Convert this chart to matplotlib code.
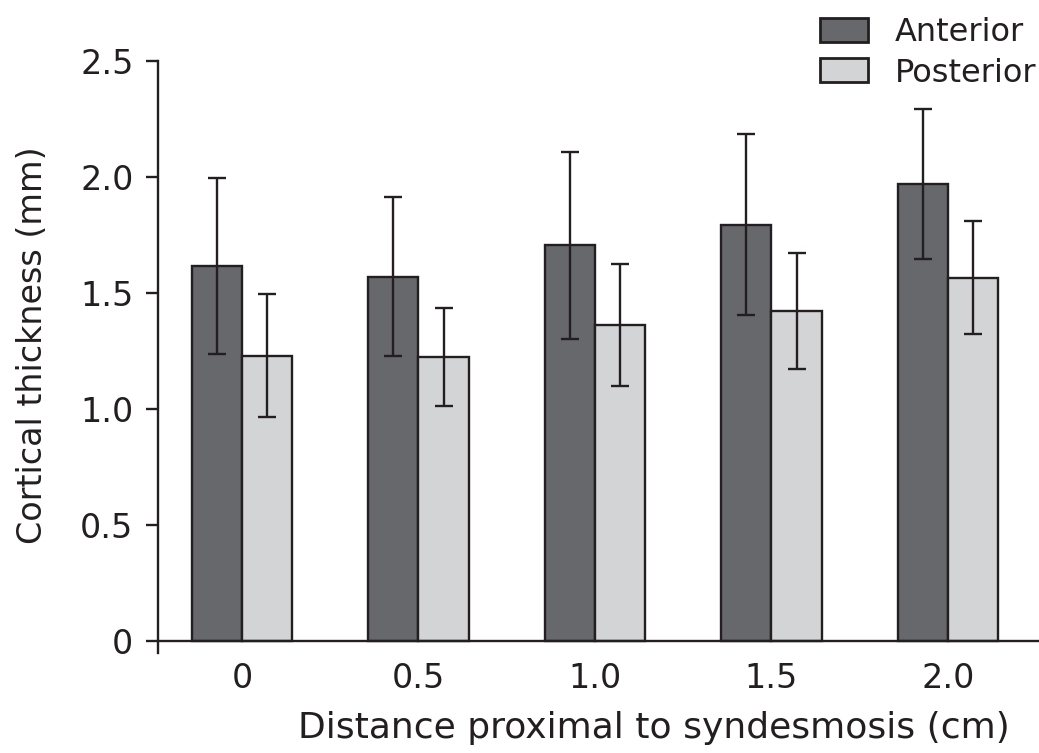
import numpy as np
import matplotlib.pyplot as plt

plt.rcParams['font.family'] = ['DejaVu Sans']

# Data
distances = ['0', '0.5', '1.0', '1.5', '2.0']
anterior = [1.615, 1.57, 1.705, 1.795, 1.97]
anterior_err = [0.38, 0.342, 0.403, 0.39, 0.323]
posterior = [1.23, 1.224, 1.362, 1.422, 1.565]
posterior_err = [0.265, 0.212, 0.265, 0.25, 0.244]

ant_color = '#67686c'
post_color = '#d3d4d6'
edge = '#231f20'

fig = plt.figure(figsize=(10.39, 7.53), dpi=100)
ax = fig.add_axes([0.152, 0.1328, 0.848, 0.7862])

x = np.arange(len(distances))
w = 0.285
err_kw = dict(ecolor=edge, elinewidth=1.7, capsize=6.8, capthick=1.7)
ax.bar(x - w / 2, anterior, w, yerr=anterior_err, color=ant_color,
       edgecolor=edge, linewidth=1.7, label='Anterior', error_kw=err_kw)
ax.bar(x + w / 2, posterior, w, yerr=posterior_err, color=post_color,
       edgecolor=edge, linewidth=1.7, label='Posterior', error_kw=err_kw)

ax.set_xlim(-0.4765, 4.516)
ax.set_ylim(-0.052, 2.5)
ax.set_yticks([0, 0.5, 1.0, 1.5, 2.0, 2.5])
ax.set_yticklabels(['0', '0.5', '1.0', '1.5', '2.0', '2.5'])
ax.set_xticks(x)
ax.set_xticklabels(distances)

for s in ['top', 'right']:
    ax.spines[s].set_visible(False)
ax.spines['bottom'].set_position(('data', 0))
ax.spines['left'].set_linewidth(1.7)
ax.spines['bottom'].set_linewidth(1.7)
ax.spines['left'].set_color(edge)
ax.spines['bottom'].set_color(edge)

ax.tick_params(axis='y', length=8.6, width=1.7, color=edge, pad=9,
               labelsize=24, labelcolor='#231f20')
ax.tick_params(axis='x', length=0, pad=15, labelsize=24, labelcolor='#231f20')

ax.set_ylabel('Cortical thickness (mm)', fontsize=24, color='#231f20')
ax.set_xlabel('Distance proximal to syndesmosis (cm)', fontsize=26,
              color='#231f20')
ax.yaxis.set_label_coords(-0.124, 0.52)
ax.xaxis.set_label_coords(0.563, -0.098)

leg = fig.legend(loc='upper left', bbox_to_anchor=(820 / 1039, 1 - 17 / 753),
                 frameon=False, fontsize=23, handlelength=1.5, handleheight=0.78,
                 handletextpad=0.85, labelspacing=0.3, borderpad=0,
                 borderaxespad=0)
for t in leg.get_texts():
    t.set_color('#231f20')
for p in leg.get_patches():
    p.set_linewidth(2)

fig.savefig('out.png', dpi=100)
